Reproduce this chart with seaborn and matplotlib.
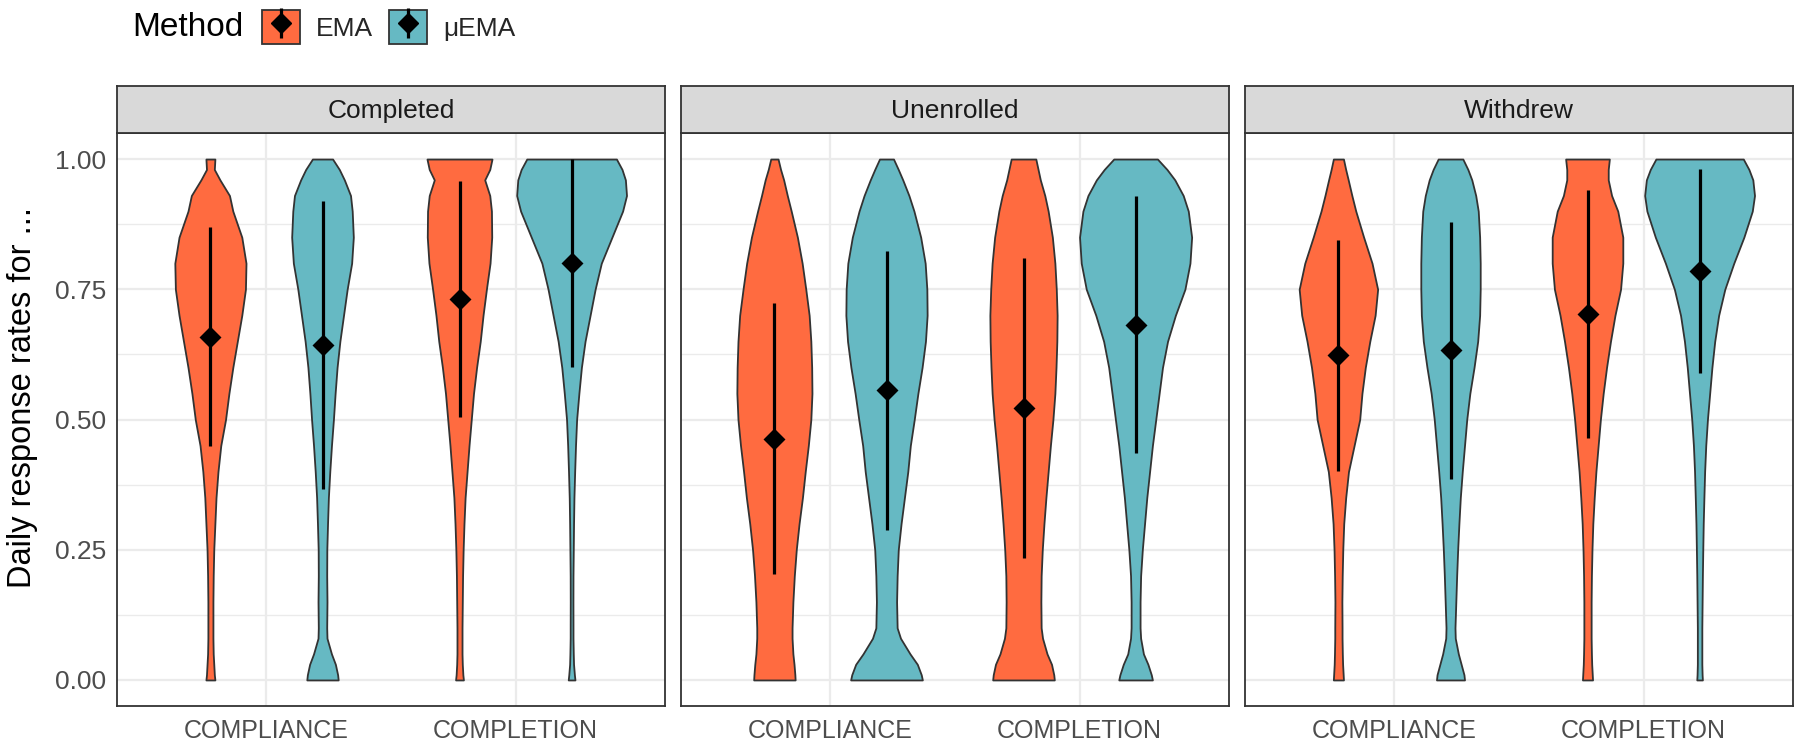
import numpy as np
import pandas as pd
import matplotlib.pyplot as plt
import seaborn as sns
from matplotlib.patches import Patch
from matplotlib.lines import Line2D
from matplotlib.legend_handler import HandlerTuple

groups = ["Completed", "Unenrolled", "Withdrew"]
measures = ["COMPLIANCE", "COMPLETION"]
methods = ["EMA", "μEMA"]
colors = {"EMA": "#FF6B40", "μEMA": "#66B9C3"}

y_grid = [0, 0.01, 0.03, 0.05, 0.08, 0.1, 0.15, 0.2, 0.25, 0.3, 0.35, 0.4, 0.45,
          0.5, 0.55, 0.6, 0.65, 0.7, 0.75, 0.8, 0.85, 0.9, 0.93, 0.96, 0.98, 1.0]

# violin half-widths (1 = widest violin)
completed_compliance_ema = [0.08, 0.07, 0.06, 0.05, 0.045, 0.045, 0.045, 0.05, 0.06, 0.08, 0.10, 0.135, 0.185,
                            0.27, 0.33, 0.40, 0.48, 0.56, 0.625, 0.635, 0.56, 0.40, 0.34, 0.17, 0.07, 0.08]
completed_compliance_mema = [0.28, 0.27, 0.23, 0.16, 0.08, 0.075, 0.08, 0.075, 0.077, 0.09, 0.105, 0.13, 0.16,
                             0.195, 0.225, 0.26, 0.31, 0.375, 0.44, 0.52, 0.55, 0.53, 0.50, 0.39, 0.30, 0.18]
completed_completion_ema = [0.07, 0.06, 0.05, 0.045, 0.045, 0.045, 0.05, 0.055, 0.065, 0.08, 0.10, 0.135, 0.17,
                            0.21, 0.25, 0.305, 0.37, 0.42, 0.48, 0.545, 0.575, 0.57, 0.54, 0.45, 0.54, 0.58]
completed_completion_mema = [0.06, 0.05, 0.035, 0.03, 0.025, 0.025, 0.024, 0.025, 0.03, 0.035, 0.042, 0.055, 0.07,
                             0.09, 0.13, 0.175, 0.24, 0.33, 0.42, 0.53, 0.72, 0.91, 0.98, 0.96, 0.90, 0.80]
unenrolled_compliance_ema = [0.37, 0.365, 0.35, 0.33, 0.315, 0.315, 0.33, 0.355, 0.39, 0.44, 0.50, 0.55, 0.605,
                             0.65, 0.67, 0.665, 0.65, 0.62, 0.56, 0.495, 0.41, 0.30, 0.23, 0.165, 0.11, 0.065]
unenrolled_compliance_mema = [0.64, 0.62, 0.55, 0.42, 0.25, 0.19, 0.18, 0.19, 0.21, 0.26, 0.32, 0.38, 0.425,
                              0.495, 0.56, 0.635, 0.695, 0.725, 0.72, 0.69, 0.61, 0.49, 0.40, 0.29, 0.21, 0.125]
unenrolled_completion_ema = [0.55, 0.54, 0.50, 0.42, 0.34, 0.315, 0.31, 0.315, 0.335, 0.365, 0.40, 0.44, 0.48,
                             0.525, 0.56, 0.58, 0.595, 0.60, 0.585, 0.56, 0.515, 0.44, 0.38, 0.30, 0.26, 0.22]
unenrolled_completion_mema = [0.30, 0.28, 0.22, 0.14, 0.09, 0.08, 0.08, 0.09, 0.12, 0.16, 0.20, 0.25, 0.30,
                              0.36, 0.42, 0.48, 0.57, 0.71, 0.88, 0.97, 1.0, 0.94, 0.85, 0.70, 0.56, 0.39]
withdrew_compliance_ema = [0.09, 0.085, 0.075, 0.07, 0.065, 0.065, 0.062, 0.068, 0.078, 0.095, 0.13, 0.18, 0.28,
                           0.38, 0.42, 0.48, 0.56, 0.655, 0.70, 0.60, 0.45, 0.31, 0.24, 0.175, 0.13, 0.09]
withdrew_compliance_mema = [0.25, 0.24, 0.19, 0.14, 0.085, 0.08, 0.095, 0.11, 0.128, 0.15, 0.175, 0.21, 0.25,
                            0.29, 0.345, 0.42, 0.485, 0.52, 0.53, 0.53, 0.52, 0.495, 0.45, 0.38, 0.31, 0.22]
withdrew_completion_ema = [0.09, 0.085, 0.075, 0.07, 0.065, 0.065, 0.065, 0.07, 0.08, 0.095, 0.12, 0.15, 0.19,
                           0.23, 0.28, 0.34, 0.41, 0.49, 0.59, 0.63, 0.63, 0.54, 0.43, 0.37, 0.37, 0.39]
withdrew_completion_mema = [0.05, 0.045, 0.04, 0.04, 0.04, 0.04, 0.045, 0.05, 0.057, 0.065, 0.077, 0.09, 0.11,
                            0.14, 0.18, 0.22, 0.27, 0.34, 0.45, 0.61, 0.79, 0.94, 0.98, 0.95, 0.88, 0.78]

# mean and sd per group, [COMPLIANCE, COMPLETION]
ema_mean = [[0.659, 0.731], [0.463, 0.522], [0.623, 0.703]]
ema_sd = [[0.210, 0.227], [0.260, 0.288], [0.222, 0.238]]
mema_mean = [[0.643, 0.800], [0.556, 0.682], [0.633, 0.785]]
mema_sd = [[0.276, 0.200], [0.268, 0.247], [0.247, 0.195]]

widths = {
    ("Completed", "COMPLIANCE", "EMA"): completed_compliance_ema,
    ("Completed", "COMPLIANCE", "μEMA"): completed_compliance_mema,
    ("Completed", "COMPLETION", "EMA"): completed_completion_ema,
    ("Completed", "COMPLETION", "μEMA"): completed_completion_mema,
    ("Unenrolled", "COMPLIANCE", "EMA"): unenrolled_compliance_ema,
    ("Unenrolled", "COMPLIANCE", "μEMA"): unenrolled_compliance_mema,
    ("Unenrolled", "COMPLETION", "EMA"): unenrolled_completion_ema,
    ("Unenrolled", "COMPLETION", "μEMA"): unenrolled_completion_mema,
    ("Withdrew", "COMPLIANCE", "EMA"): withdrew_compliance_ema,
    ("Withdrew", "COMPLIANCE", "μEMA"): withdrew_compliance_mema,
    ("Withdrew", "COMPLETION", "EMA"): withdrew_completion_ema,
    ("Withdrew", "COMPLETION", "μEMA"): withdrew_completion_mema,
}

rows = []
for g, group in enumerate(groups):
    for m, measure in enumerate(measures):
        rows.append((group, measure, "EMA", ema_mean[g][m], ema_sd[g][m]))
        rows.append((group, measure, "μEMA", mema_mean[g][m], mema_sd[g][m]))
summary = pd.DataFrame(rows, columns=["group", "measure", "method", "mean", "sd"])
offset = {"EMA": -0.225, "μEMA": 0.225}
summary["x"] = summary["measure"].map({k: i + 1 for i, k in enumerate(measures)}) + summary["method"].map(offset)

sns.set_theme(style="whitegrid")
plt.rcParams["font.family"] = ["Liberation Sans", "DejaVu Sans"]

W, H = 1800, 743
fig = plt.figure(figsize=(W / 100, H / 100), dpi=100)
panel_left = [117, 681, 1245]
panel_w = 548
top_px, bot_px, strip_h = 133, 706, 47
edge = "#333333"

for g, group in enumerate(groups):
    ax = fig.add_axes([panel_left[g] / W, 1 - bot_px / H, panel_w / W, (bot_px - top_px) / H])
    ax.set_facecolor("white")
    ax.set_axisbelow(True)
    half = 0.225
    for m, measure in enumerate(measures):
        for method in methods:
            c = m + 1 + offset[method]
            w = np.array(widths[(group, measure, method)]) * half
            ax.fill_betweenx(y_grid, c - w, c + w, facecolor=colors[method],
                             edgecolor=edge, linewidth=1.3, zorder=2)
    sub = summary[summary["group"] == group]
    ax.vlines(sub["x"], sub["mean"] - sub["sd"], sub["mean"] + sub["sd"],
              color="black", linewidth=2.3, zorder=3)
    sns.scatterplot(data=sub, x="x", y="mean", marker="D", color="black", s=125,
                    linewidth=0, legend=False, ax=ax, zorder=4)

    ax.set_xlim(0.4, 2.6)
    ax.set_ylim(-0.05, 1.05)
    ax.set_xticks([1, 2])
    ax.set_xticklabels(measures, fontsize=18, color="#4D4D4D")
    ax.set_yticks([0, 0.25, 0.5, 0.75, 1.0])
    ax.set_yticks([0.125, 0.375, 0.625, 0.875], minor=True)
    ax.grid(which="major", color="#EBEBEB", linewidth=1.6)
    ax.grid(which="minor", axis="y", color="#EBEBEB", linewidth=1.0)
    ax.tick_params(axis="x", length=5, width=1.2, color=edge, pad=4)
    ax.tick_params(axis="y", which="minor", length=0)
    if g == 0:
        ax.set_yticklabels(["0.00", "0.25", "0.50", "0.75", "1.00"], fontsize=19, color="#4D4D4D")
        ax.tick_params(axis="y", which="major", length=5, width=1.2, color=edge, pad=3)
    else:
        ax.set_yticklabels([])
        ax.tick_params(axis="y", which="major", length=0)
    ax.set_xlabel("")
    ax.set_ylabel("")
    for s in ax.spines.values():
        s.set_color(edge)
        s.set_linewidth(1.3)
        s.set_visible(True)

    sax = fig.add_axes([panel_left[g] / W, 1 - top_px / H, panel_w / W, strip_h / H])
    sax.set_facecolor("#D9D9D9")
    sax.set_xticks([])
    sax.set_yticks([])
    sax.grid(False)
    for s in sax.spines.values():
        s.set_color(edge)
        s.set_linewidth(1.3)
        s.set_visible(True)
    sax.text(0.5, 0.47, group, ha="center", va="center", fontsize=19, color="#1A1A1A",
             transform=sax.transAxes)

fig.text(23 / W, 1 - 398 / H, "Daily response rates for ...", rotation=90,
         ha="center", va="center", fontsize=23.5, color="black")

fig.text(132 / W, 1 - 27 / H, "Method", ha="left", va="center", fontsize=24, color="black")
handles = []
for method in methods:
    handles.append((Patch(facecolor=colors[method], edgecolor=edge, linewidth=1.3),
                    Line2D([], [], marker="|", markersize=21, markeredgewidth=2.3,
                           color="black", linestyle="None"),
                    Line2D([], [], marker="D", markersize=10, color="black", linestyle="None")))
fig.legend(handles, methods, handler_map={tuple: HandlerTuple(ndivide=1, pad=0)},
           loc="center left", bbox_to_anchor=(262 / W, 1 - 27 / H), ncol=2, frameon=False,
           fontsize=19, handlelength=1.45, handleheight=1.6, handletextpad=0.6,
           columnspacing=0.6, borderpad=0, borderaxespad=0)

fig.savefig("out.png", dpi=100)
